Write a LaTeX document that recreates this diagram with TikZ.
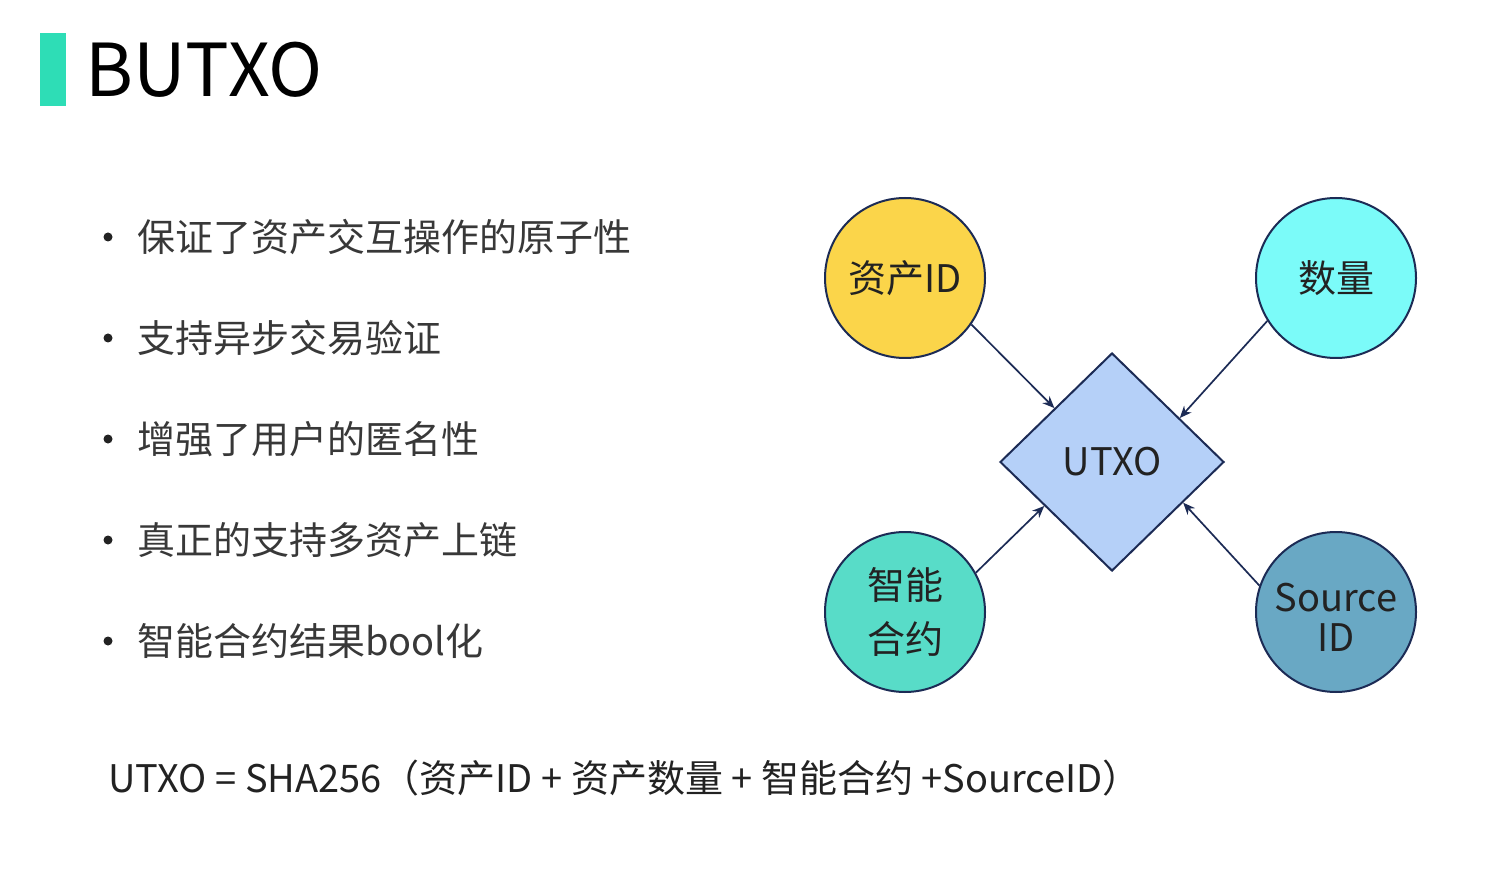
\documentclass[tikz,border=0pt]{standalone}
\usepackage{fontspec}
\setmainfont{Noto Sans CJK SC}
\usetikzlibrary{shapes.geometric,arrows.meta,calc}
\definecolor{barc}{HTML}{2EDDB6}
\definecolor{navy}{HTML}{1C2B55}
\definecolor{cyel}{HTML}{FBD54A}
\definecolor{ccya}{HTML}{7BFBF9}
\definecolor{ctur}{HTML}{58DCC8}
\definecolor{cste}{HTML}{69A8C4}
\definecolor{cdia}{HTML}{B5D0F8}
\definecolor{txt}{HTML}{222222}
\tikzset{
  bubble/.style={circle,draw=navy,line width=1pt,minimum size=80pt,inner sep=0pt,align=center,text=txt,font=\fontsize{19pt}{27pt}\selectfont},
  hub/.style={diamond,draw=navy,line width=1pt,fill=cdia,minimum width=112pt,minimum height=109pt,inner sep=0pt,text=txt,font=\fontsize{19pt}{23pt}\selectfont},
  arr/.style={-{Stealth[length=6pt,width=5pt]},draw=navy,line width=0.85pt},
  bullettext/.style={anchor=west,inner sep=0pt,text=txt!90,font=\fontsize{19pt}{23pt}\selectfont},
  dot/.style={circle,fill=txt,inner sep=0pt,minimum size=4.5pt}
}
\begin{document}
\begin{tikzpicture}[x=0.5pt,y=-0.5pt]
\path[use as bounding box,fill=white] (0,0) rectangle (1500,877);
\fill[barc] (40,33) rectangle (66,106);
\node[anchor=west,inner sep=0pt,font=\fontsize{36.5pt}{42pt}\selectfont] (title) at (85,70) {BUTXO};

\foreach \y/\t [count=\i] in {237/保证了资产交互操作的原子性,338/支持异步交易验证,439/增强了用户的匿名性,540/真正的支持多资产上链,641/智能合约结果bool化}{
  \node[dot] (b\i) at (108,\y) {};
  \node[bullettext] (t\i) at (137,\y) {\t};
}

\node[hub] (utxo) at (1112,462) {UTXO};
\node[bubble,fill=cyel] (asset) at (905,278) {资产ID};
\node[bubble,fill=ccya] (amount) at (1336,278) {数量};
\node[bubble,fill=ctur] (contract) at (905,612) {智能\\合约};
\node[bubble,fill=cste,label={[align=center,text=txt,font=\fontsize{19pt}{20pt}\selectfont,yshift=-2.5pt]center:Source\\ID}] (source) at (1336,612) {};

\draw[arr] (asset.-35) -- ($(utxo.west)!0.49!(utxo.north)$);
\draw[arr] (amount.212) -- ($(utxo.north)!0.6!(utxo.east)$);
\draw[arr] (contract.29) -- ($(utxo.west)!0.4!(utxo.south)$);
\draw[arr] (source.161) -- ($(utxo.east)!0.37!(utxo.south)$);

\node[anchor=west,inner sep=0pt,text=txt,font=\fontsize{19pt}{23pt}\selectfont] (formula) at (108,778) {UTXO = SHA256（资产ID + 资产数量 + 智能合约 +SourceID）};
\end{tikzpicture}
\end{document}
